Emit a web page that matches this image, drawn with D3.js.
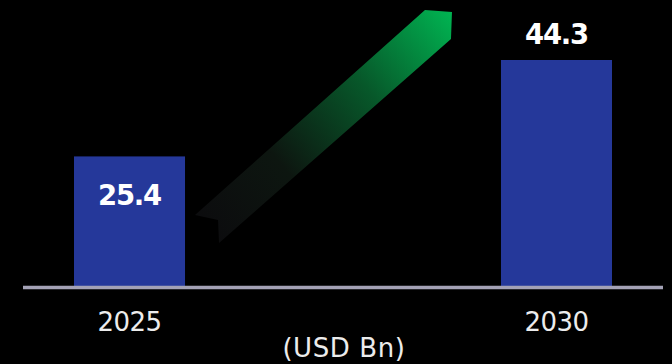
<!DOCTYPE html>
<html>
<head>
<meta charset="utf-8">
<script src="https://cdn.jsdelivr.net/npm/d3@7"></script>
<style>
  html, body { margin: 0; padding: 0; background: #000; }
  svg { display: block; }
</style>
</head>
<body>
<svg id="chart" width="672" height="364"></svg>
<script>
// ── Data ──────────────────────────────────────────────────────────────────────
const years  = ['2025', '2030'];
const values = [25.4, 44.3];
const unit   = '(USD Bn)';

// ── Config ────────────────────────────────────────────────────────────────────
const W = 672, H = 364;
const BASE_Y   = 287.5;
const BAR_FILL = '#25389a';
const AXIS_COL = '#a4a2b6';

const svg = d3.select('#chart');

svg.append('rect').attr('width', W).attr('height', H).attr('fill', '#000');

const x = d3.scaleBand()
  .domain(years)
  .range([74, 612])
  .paddingInner(0.74)
  .paddingOuter(0);

const y = d3.scaleLinear()
  .domain([0, 44.3])
  .range([286, 60]);

// ── Growth arrow (decorative, placed between the bars) ───────────────────────
const defs = svg.append('defs');
const grad = defs.append('linearGradient')
  .attr('id', 'arrow-grad')
  .attr('gradientUnits', 'userSpaceOnUse');

const x1 = x(years[0]) + x.bandwidth();   // right edge of first bar
const x2 = x(years[1]);                   // left edge of second bar
const tailX = x1 + 10, tailY = 215;
const headX = x2 - 49, headY = 11;

grad.attr('x1', tailX + 12).attr('y1', tailY + 14)
    .attr('x2', headX + 10).attr('y2', headY + 12);
grad.append('stop').attr('offset', '0%').attr('stop-color', '#0c0c0e');
grad.append('stop').attr('offset', '30%').attr('stop-color', '#0d1610');
grad.append('stop').attr('offset', '65%').attr('stop-color', '#07582a');
grad.append('stop').attr('offset', '100%').attr('stop-color', '#00b552');

const arrowPts = [
  [tailX, tailY],
  [headX - 27, headY - 1],
  [headX, headY + 1],
  [headX - 1, headY + 28],
  [tailX + 24, tailY + 28],
  [tailX + 23, tailY + 5]
];

svg.append('path')
  .attr('d', d3.line()(arrowPts) + 'Z')
  .attr('fill', 'url(#arrow-grad)');

// ── Bars ──────────────────────────────────────────────────────────────────────
svg.selectAll('.bar')
  .data(years)
  .join('rect')
  .attr('class', 'bar')
  .attr('x', d => x(d))
  .attr('y', (d, i) => y(values[i]))
  .attr('width', x.bandwidth())
  .attr('height', (d, i) => BASE_Y - y(values[i]))
  .attr('fill', BAR_FILL);

// ── Value labels: inside the short bar, above the tall one ───────────────────
svg.selectAll('.val')
  .data(years)
  .join('text')
  .attr('class', 'val')
  .attr('x', d => x(d) + x.bandwidth() / 2)
  .attr('y', (d, i) => i === 0 ? y(values[i]) + 49 : y(values[i]) - 16)
  .attr('text-anchor', 'middle')
  .attr('font-family', 'DejaVu Sans, sans-serif')
  .attr('font-weight', 'bold')
  .attr('font-size', 27.5)
  .attr('letter-spacing', -1.2)
  .attr('fill', '#fff')
  .text((d, i) => values[i].toFixed(1));

// ── Baseline ──────────────────────────────────────────────────────────────────
svg.append('line')
  .attr('x1', 23).attr('x2', 663)
  .attr('y1', BASE_Y).attr('y2', BASE_Y)
  .attr('stroke', AXIS_COL)
  .attr('stroke-width', 3.5);

// ── Category labels ──────────────────────────────────────────────────────────
svg.selectAll('.cat')
  .data(years)
  .join('text')
  .attr('class', 'cat')
  .attr('x', d => x(d) + x.bandwidth() / 2)
  .attr('y', 331)
  .attr('text-anchor', 'middle')
  .attr('font-family', 'DejaVu Sans, sans-serif')
  .attr('font-size', 26)
  .attr('letter-spacing', -0.6)
  .attr('fill', '#ececec')
  .text(d => d);

svg.append('text')
  .attr('x', 344)
  .attr('y', 357)
  .attr('text-anchor', 'middle')
  .attr('font-family', 'DejaVu Sans, sans-serif')
  .attr('font-size', 26)
  .attr('letter-spacing', 0.6)
  .attr('fill', '#ececec')
  .text(unit);
</script>
</body>
</html>
